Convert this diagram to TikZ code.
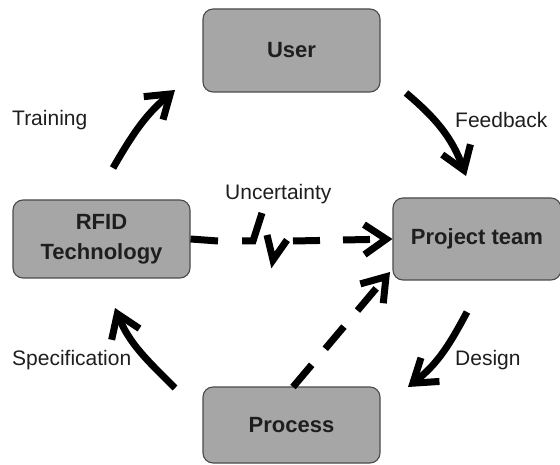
\documentclass[tikz,border=0pt]{standalone}
\usepackage{fontspec}
\setmainfont{Liberation Sans}
\usetikzlibrary{arrows.meta}
\definecolor{boxfill}{HTML}{A6A6A6}
\definecolor{boxline}{HTML}{4A4A4A}
\definecolor{txt}{HTML}{1E1E1E}
\begin{document}
\begin{tikzpicture}[x=1pt,y=1pt,
  box/.style={draw=boxline,line width=1.1pt,fill=boxfill,rounded corners=10pt,
    minimum width=177pt,inner sep=0pt,align=center,text=txt,
    font=\fontsize{22}{30}\selectfont\bfseries},
  lbl/.style={anchor=west,inner sep=0pt,text=txt,font=\fontsize{21}{25}\selectfont},
  flow/.style={line width=7pt,-{Straight Barb[length=22pt,width=30pt]}},
  dsh/.style={line width=7pt,dash pattern=on 29pt off 21pt,-{Straight Barb[length=22pt,width=30pt]}},
  brk/.style={line width=7pt,line cap=butt,miter limit=4}]
\useasboundingbox (0,0) rectangle (560,464);
\node[box,minimum height=83pt] (user) at (291.5,413.5) {User};
\node[box,minimum height=76pt] (proc) at (291.5,39) {Process};
\node[box,minimum height=78pt] (rfid) at (101.5,225) {RFID\\Technology};
\node[box,minimum width=168pt,minimum height=82pt] (team) at (477,225) {Project team};

\node[lbl] (ltrain) at (12,344) {Training};
\node[lbl] (lfeed) at (455,344) {Feedback};
\node[lbl] (lunc) at (225,270) {Uncertainty};
\node[lbl] (lspec) at (12,104) {Specification};
\node[lbl] (ldes) at (455,104) {Design};

\coordinate (t1) at (113,296); \coordinate (t2) at (175,374);
\coordinate (f1) at (406,371); \coordinate (f2) at (466,288);
\coordinate (s1) at (175,76);  \coordinate (s2) at (115,156);
\coordinate (d1) at (467,152); \coordinate (d2) at (408,77);

\draw[flow] (t1) to[out=60,in=220] (t2);
\draw[flow] (f1) to[out=-40,in=110] (f2);
\draw[flow] (s1) to[out=135,in=-68] (s2);
\draw[flow] (d1) to[out=-118,in=38] (d2);

% uncertainty line with break
\coordinate (u1) at (218,223);
\coordinate (u2) at (293,223);
\draw[brk] (rfid.east) -- (u1);
\draw[brk] (242,223) -- (253,223) -- (262,251);
\draw[brk] (267,229) -- (273,204) -- (287,224);
\draw[dsh,dash pattern=on 27pt off 23pt] (u2) -- (team.west);

% process to team dashed
\coordinate (p1) at (293,77);
\coordinate (p2) at (390,192);
\draw[dsh] (p1) -- (p2);
\end{tikzpicture}
\end{document}
